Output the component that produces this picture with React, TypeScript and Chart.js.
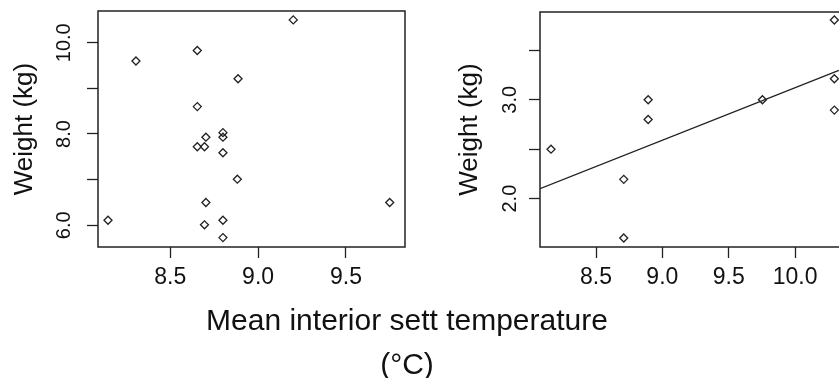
import React, { useEffect, useRef } from "react";
import { Chart, registerables } from "chart.js";

Chart.register(...registerables);

// ---- Left panel data ----
const leftTemp = [8.146, 8.305, 8.654, 9.2, 8.886, 8.654, 8.8, 8.8, 8.703, 8.654, 8.695, 8.8, 8.882, 8.703, 9.749, 8.695, 8.8, 8.8];
const leftWeight = [6.11, 9.6, 9.83, 10.5, 9.21, 8.6, 8.03, 7.93, 7.93, 7.72, 7.72, 7.59, 7.01, 6.5, 6.5, 6.01, 6.11, 5.73];
const leftXTicks = [8.5, 9.0, 9.5];
const leftYTicks = [6, 7, 8, 9, 10];
const leftYLabelled = [6, 8, 10];
const leftXRange = [8.089, 9.836];
const leftYRange = [5.524, 10.695];

// ---- Right panel data ----
const rightTemp = [8.161, 8.709, 8.709, 8.893, 8.893, 9.754, 10.296, 10.296, 10.296];
const rightWeight = [2.5, 2.195, 1.602, 3.0, 2.8, 3.0, 3.806, 3.212, 2.895];
const fitTemp = [8.078, 10.33];
const fitWeight = [2.101, 3.296];
const rightXTicks = [8.5, 9.0, 9.5, 10.0, 10.5];
const rightYTicks = [2, 2.5, 3, 3.5];
const rightYLabelled = [2, 3];
const rightXRange = [8.078, 10.64];
const rightYRange = [1.511, 3.887];

const yTitle = "Weight (kg)";
const xTitleLine1 = "Mean interior sett temperature";
const xTitleLine2 = "(°C)";

const FONT = '"Liberation Sans", Arial, Helvetica, sans-serif';
const INK = "#222";

const boxPlugin = {
  id: "plotBox",
  afterDraw(chart: any) {
    const { ctx, chartArea } = chart;
    ctx.save();
    ctx.strokeStyle = INK;
    ctx.lineWidth = 1.5;
    ctx.strokeRect(chartArea.left, chartArea.top, chartArea.right - chartArea.left, chartArea.bottom - chartArea.top);
    ctx.restore();
  },
};

type PanelProps = {
  temps: number[];
  weights: number[];
  fitX?: number[];
  fitY?: number[];
  xRange: number[];
  yRange: number[];
  xTicks: number[];
  yTicks: number[];
  yLabelled: number[];
  left: number;
  width: number;
  yAxisWidth: number;
  topPad: number;
  rightPad: number;
  yTickPad: number;
};

function Panel(p: PanelProps) {
  const ref = useRef<HTMLCanvasElement | null>(null);
  useEffect(() => {
    if (!ref.current) return;
    const datasets: any[] = [
      {
        data: p.temps.map((t, i) => ({ x: t, y: p.weights[i] })),
        pointStyle: "rectRot",
        pointRadius: 4,
        pointBorderWidth: 1.3,
        pointBorderColor: INK,
        pointBackgroundColor: "rgba(255,255,255,0)",
        showLine: false,
      },
    ];
    if (p.fitX && p.fitY) {
      datasets.push({
        data: p.fitX.map((t, i) => ({ x: t, y: p.fitY![i] })),
        showLine: true,
        pointRadius: 0,
        borderColor: INK,
        borderWidth: 1.3,
        fill: false,
      });
    }
    const tickGrid = {
      display: true,
      drawOnChartArea: false,
      drawTicks: true,
      tickLength: 11,
      tickColor: INK,
      tickWidth: 1.3,
    };
    const chart = new Chart(ref.current, {
      type: "scatter",
      data: { datasets },
      plugins: [boxPlugin],
      options: {
        animation: false,
        responsive: false,
        devicePixelRatio: 1,
        events: [],
        layout: { padding: { top: p.topPad, right: p.rightPad, left: 0, bottom: 0 } },
        plugins: { legend: { display: false }, tooltip: { enabled: false } },
        scales: {
          x: {
            type: "linear",
            position: "bottom",
            min: p.xRange[0],
            max: p.xRange[1],
            afterBuildTicks: (s: any) => {
              s.ticks = p.xTicks.map((v) => ({ value: v }));
            },
            afterFit: (s: any) => {
              s.height = 53;
              s.paddingLeft = 0;
              s.paddingRight = 0;
              s.paddingTop = 0;
              s.paddingBottom = 0;
            },
            grid: tickGrid,
            border: { display: false },
            ticks: {
              autoSkip: false,
              maxRotation: 0,
              padding: 6,
              color: "#111",
              font: { family: FONT, size: 23 },
              callback: (v: any) => Number(v).toFixed(1),
            },
          },
          y: {
            type: "linear",
            position: "left",
            min: p.yRange[0],
            max: p.yRange[1],
            afterBuildTicks: (s: any) => {
              s.ticks = p.yTicks.map((v) => ({ value: v }));
            },
            afterFit: (s: any) => {
              s.width = p.yAxisWidth;
              s.paddingTop = 0;
              s.paddingBottom = 0;
              s.paddingLeft = 0;
              s.paddingRight = 0;
            },
            grid: tickGrid,
            border: { display: false },
            title: {
              display: true,
              text: yTitle,
              color: "#111",
              font: { family: FONT, size: 26 },
              padding: { top: 9, bottom: 0 },
            },
            ticks: {
              autoSkip: false,
              minRotation: 90,
              maxRotation: 90,
              crossAlign: "center",
              padding: p.yTickPad,
              color: "#111",
              font: { family: FONT, size: 20 },
              callback: (v: any) => (p.yLabelled.includes(Number(v)) ? Number(v).toFixed(1) : ""),
            },
          },
        },
      } as any,
    });
    return () => chart.destroy();
  }, []);
  return (
    <canvas
      ref={ref}
      width={p.width}
      height={300}
      style={{ position: "absolute", left: p.left, top: 0, width: p.width, height: 300 }}
    />
  );
}

export default function App() {
  return (
    <div
      style={{
        position: "fixed",
        left: 0,
        top: 0,
        width: 839,
        height: 378,
        overflow: "hidden",
        background: "#fff",
      }}
    >
      <Panel
        temps={leftTemp}
        weights={leftWeight}
        xRange={leftXRange}
        yRange={leftYRange}
        xTicks={leftXTicks}
        yTicks={leftYTicks}
        yLabelled={leftYLabelled}
        left={0}
        width={430}
        yAxisWidth={98}
        topPad={11}
        rightPad={25}
        yTickPad={3}
      />
      <Panel
        temps={rightTemp}
        weights={rightWeight}
        fitX={fitTemp}
        fitY={fitWeight}
        xRange={rightXRange}
        yRange={rightYRange}
        xTicks={rightXTicks}
        yTicks={rightYTicks}
        yLabelled={rightYLabelled}
        left={445}
        width={445}
        yAxisWidth={95}
        topPad={12}
        rightPad={10}
        yTickPad={5}
      />
      <div
        style={{
          position: "absolute",
          left: 0,
          width: 814,
          top: 297.6,
          textAlign: "center",
          fontFamily: FONT,
          fontSize: 30,
          lineHeight: "44px",
          color: "#111",
          whiteSpace: "nowrap",
        }}
      >
        {xTitleLine1}
        <br />
        {xTitleLine2}
      </div>
    </div>
  );
}
